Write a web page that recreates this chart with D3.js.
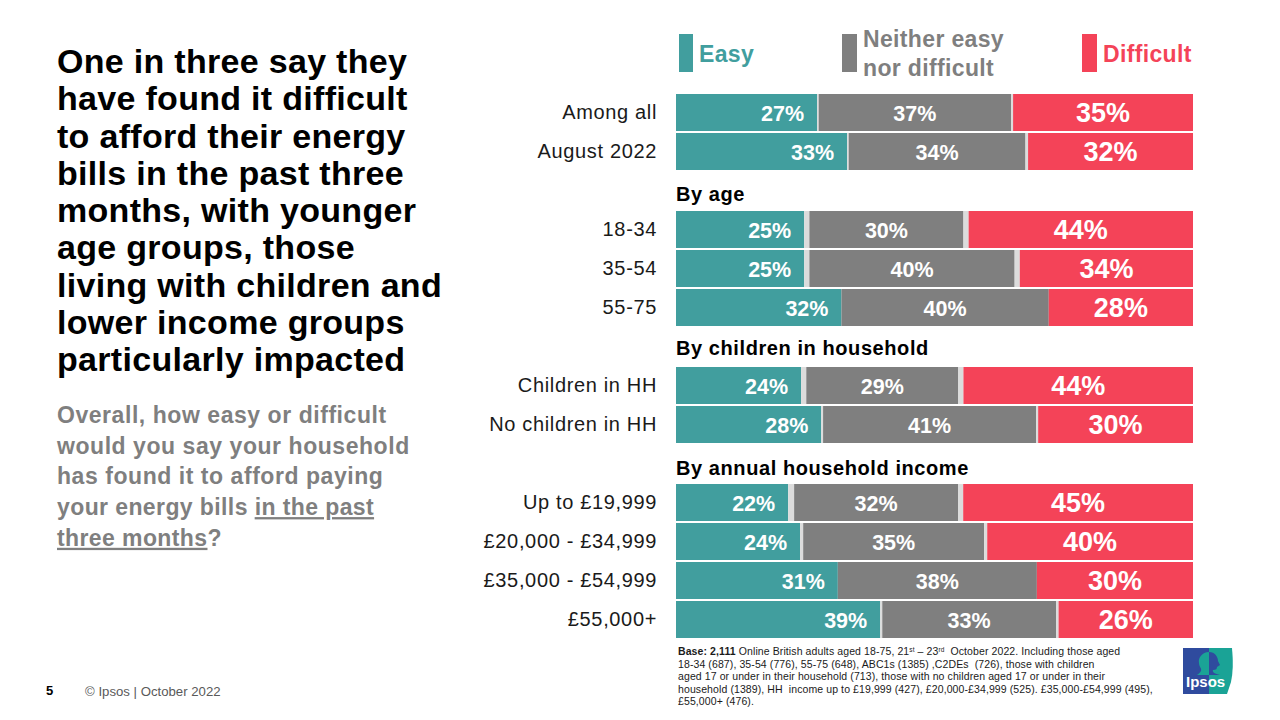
<!DOCTYPE html>
<html>
<head>
<meta charset="utf-8">
<script src="https://d3js.org/d3.v7.min.js"></script>
<style>
  html, body { margin: 0; padding: 0; background: #fff; }
  text { font-family: "Liberation Sans", Arial, sans-serif; }
</style>
</head>
<body>
<div id="chart"></div>
<script>
// rows in order, blank slots hold the group headings
const rowNames = ["Among all", "August 2022", "By age", "18-34", "35-54", "55-75",
    "By children in household", "Children in HH", "No children in HH",
    "By annual household income", "Up to £19,999", "£20,000 - £34,999", "£35,000 - £54,999", "£55,000+"];
const headings = ["By age", "By children in household", "By annual household income"];
const categories = rowNames.filter(d => !headings.includes(d));

// values, the labels are the ones printed in the source
const easy =      [27.3, 33.1, 24.8, 24.8, 32.0, 24.2, 28.1, 21.7, 24.0, 31.3, 39.5];
const gapLeft =   [0.3, 0.3, 1.0, 1.0, 0, 1.0, 0.35, 1.15, 0.6, 0, 0.4];
const neither =   [37.2, 34.2, 29.8, 39.7, 40.1, 29.4, 41.2, 31.7, 35.0, 38.5, 33.6];
const gapRight =  [0.4, 0.5, 1.0, 1.0, 0, 1.0, 0.4, 1.0, 0.6, 0, 0.5];
const difficult = [34.8, 31.9, 43.4, 33.5, 27.9, 44.4, 29.95, 44.45, 39.8, 30.2, 26.0];

const easyLabels =      ["27%", "33%", "25%", "25%", "32%", "24%", "28%", "22%", "24%", "31%", "39%"];
const neitherLabels =   ["37%", "34%", "30%", "40%", "40%", "29%", "41%", "32%", "35%", "38%", "33%"];
const difficultLabels = ["35%", "32%", "44%", "34%", "28%", "44%", "30%", "45%", "40%", "30%", "26%"];

const titleLines = ["One in three say they", "have found it difficult", "to afford their energy",
    "bills in the past three", "months, with younger", "age groups, those",
    "living with children and", "lower income groups", "particularly impacted"];

const colors = {easy: "#419e9e", neither: "#7f7f7f", difficult: "#f44358", gap: "#dcdcdc"};

const svg = d3.select("#chart").append("svg")
    .attr("width", 1280)
    .attr("height", 720)
    .style("display", "block");

// ---- left column
svg.append("g").selectAll("text")
    .data(titleLines)
    .enter().append("text")
    .attr("x", 57)
    .attr("y", (d, i) => 73 + i * 37.25)
    .attr("font-size", 34)
    .attr("letter-spacing", 0.3)
    .attr("font-weight", "bold")
    .attr("fill", "#000")
    .text(d => d);

const question = svg.append("g")
    .attr("font-size", 23)
    .attr("letter-spacing", 0.55)
    .attr("font-weight", "bold")
    .attr("fill", "#7f7f7f");

const questionLines = [
    [["Overall, how easy or difficult", false]],
    [["would you say your household", false]],
    [["has found it to afford paying", false]],
    [["your energy bills ", false], ["in the past", true]],
    [["three months", true], ["?", false]]
];

questionLines.forEach((parts, i) => {
    let line = question.append("text")
        .attr("x", 57)
        .attr("y", 423 + i * 30.7)
        .attr("letter-spacing", i > 2 ? 0.4 : null)
        .attr("xml:space", "preserve");
    parts.forEach(p => {
        line.append("tspan")
            .attr("text-decoration", p[1] ? "underline" : null)
            .text(p[0]);
    });
});

// ---- bars
const x = d3.scaleLinear().domain([0, 100]).range([676, 1193]);
const y = d3.scaleBand().domain(rowNames).range([94, 638]).paddingInner(2 / 39);

const rows = categories.map((name, i) => ({
    name: name,
    easy: easy[i],
    gapLeft: gapLeft[i],
    neither: neither[i],
    gapRight: gapRight[i],
    difficult: difficult[i]
}));

const keys = ["easy", "gapLeft", "neither", "gapRight", "difficult"];
const fills = {easy: colors.easy, gapLeft: colors.gap, neither: colors.neither, gapRight: colors.gap, difficult: colors.difficult};
const stacked = d3.stack().keys(keys)(rows);

svg.append("g").selectAll("g")
    .data(stacked)
    .enter().append("g")
    .attr("fill", d => fills[d.key])
    .selectAll("rect")
    .data(d => d)
    .enter().append("rect")
    .attr("x", d => x(d[0]))
    .attr("y", d => y(d.data.name))
    .attr("width", d => x(d[1]) - x(d[0]))
    .attr("height", y.bandwidth());

const seriesOf = key => stacked.find(s => s.key === key);
const midY = name => y(name) + y.bandwidth() / 2;

// easy labels sit inside the bar end, the others in the middle
svg.append("g").selectAll("text")
    .data(seriesOf("easy"))
    .enter().append("text")
    .attr("x", d => x(d[1]) - 13)
    .attr("y", d => midY(d.data.name) + 8.5)
    .attr("text-anchor", "end")
    .attr("font-size", 21.5)
    .attr("font-weight", "bold")
    .attr("fill", "#fff")
    .text((d, i) => easyLabels[i]);

svg.append("g").selectAll("text")
    .data(seriesOf("neither"))
    .enter().append("text")
    .attr("x", d => (x(d[0]) + x(d[1])) / 2)
    .attr("y", d => midY(d.data.name) + 8.5)
    .attr("text-anchor", "middle")
    .attr("font-size", 21.5)
    .attr("font-weight", "bold")
    .attr("fill", "#fff")
    .text((d, i) => neitherLabels[i]);

svg.append("g").selectAll("text")
    .data(seriesOf("difficult"))
    .enter().append("text")
    .attr("x", d => (x(d[0]) + x(d[1])) / 2)
    .attr("y", d => midY(d.data.name) + 9.5)
    .attr("text-anchor", "middle")
    .attr("font-size", 27)
    .attr("font-weight", "bold")
    .attr("fill", "#fff")
    .text((d, i) => difficultLabels[i]);

// category labels through the band axis
const yAxis = svg.append("g")
    .attr("transform", "translate(670,0)")
    .call(d3.axisLeft(y).tickValues(categories).tickSize(0).tickPadding(13));
yAxis.select(".domain").remove();
yAxis.selectAll("text")
    .attr("font-family", null)
    .attr("font-size", 20)
    .attr("letter-spacing", 0.65)
    .attr("fill", "#1a1a1a");

const headingShift = [0, -2, 1];

svg.append("g").selectAll("text")
    .data(headings)
    .enter().append("text")
    .attr("x", 676)
    .attr("y", (d, i) => y(d) + 29 + headingShift[i])
    .attr("font-size", 20)
    .attr("letter-spacing", 0.58)
    .attr("font-weight", "bold")
    .attr("fill", "#000")
    .text(d => d);

// ---- legend
const legendItems = [
    {x: 679, w: 14, color: colors.easy, lines: ["Easy"], y0: 62},
    {x: 842, w: 15, color: colors.neither, lines: ["Neither easy", "nor difficult"], y0: 47},
    {x: 1082, w: 15, color: colors.difficult, lines: ["Difficult"], y0: 62}
];

const legend = svg.append("g").selectAll("g")
    .data(legendItems)
    .enter().append("g");

legend.append("rect")
    .attr("x", d => d.x)
    .attr("y", 34)
    .attr("width", d => d.w)
    .attr("height", 38)
    .attr("fill", d => d.color);

legend.each(function(d) {
    d3.select(this).selectAll("text")
        .data(d.lines)
        .enter().append("text")
        .attr("x", d.x + d.w + 6)
        .attr("y", (t, i) => d.y0 + i * 29)
        .attr("font-size", 23)
        .attr("letter-spacing", 0.35)
        .attr("font-weight", "bold")
        .attr("fill", d.color)
        .text(t => t);
});

// ---- footer
svg.append("text")
    .attr("x", 46)
    .attr("y", 695)
    .attr("font-size", 13)
    .attr("font-weight", "bold")
    .attr("fill", "#000")
    .text("5");

svg.append("text")
    .attr("x", 85)
    .attr("y", 696)
    .attr("font-size", 13.2)
    .attr("fill", "#595959")
    .text("© Ipsos | October 2022");

const baseLines = [
    [["Base: 2,111", "b"], [" Online British adults aged 18-75, 21", ""], ["st", "s"], [" – 23", ""], ["rd", "s"], ["  October 2022. Including those aged", ""]],
    [["18-34 (687), 35-54 (776), 55-75 (648), ABC1s (1385) ,C2DEs  (726), those with children", ""]],
    [["aged 17 or under in their household (713), those with no children aged 17 or under in their", ""]],
    [["household (1389), HH  income up to £19,999 (427), £20,000-£34,999 (525). £35,000-£54,999 (495),", ""]],
    [["£55,000+ (476).", ""]]
];

const base = svg.append("g")
    .attr("font-size", 10.5)
    .attr("letter-spacing", 0.1)
    .attr("fill", "#1a1a1a");
baseLines.forEach((parts, i) => {
    let line = base.append("text")
        .attr("x", 678)
        .attr("y", 655 + i * 12.6)
        .attr("xml:space", "preserve");
    parts.forEach(p => {
        line.append("tspan")
            .attr("font-weight", p[1] === "b" ? "bold" : null)
            .attr("font-size", p[1] === "s" ? 6.5 : null)
            .attr("baseline-shift", p[1] === "s" ? "super" : null)
            .text(p[0]);
    });
});

// ---- logo
const logo = svg.append("g").attr("transform", "translate(1183,648)");
logo.append("path").attr("d", "M0,0H26V46H0Z").attr("fill", "#2f4b9e");
logo.append("path").attr("d", "M26,0H49Q51,20 48,34L44,46H26Z").attr("fill", "#1aa396");
logo.append("path")
    .attr("d", "M26,4C19,4 15,10 16,15C16,19 19,20 18,23C17,25 15,26 14,27H26Z")
    .attr("fill", "#1aa396");
logo.append("path")
    .attr("d", "M26,4C32,4 35,9 35,13L37,17L34,19C34,21 33,22 30,22C29,24 32,26 37,27H26Z")
    .attr("fill", "#2f4b9e");
logo.append("text")
    .attr("x", 3)
    .attr("y", 39)
    .attr("font-size", 15)
    .attr("font-weight", "bold")
    .attr("fill", "#fff")
    .text("Ipsos");
</script>
</body>
</html>
